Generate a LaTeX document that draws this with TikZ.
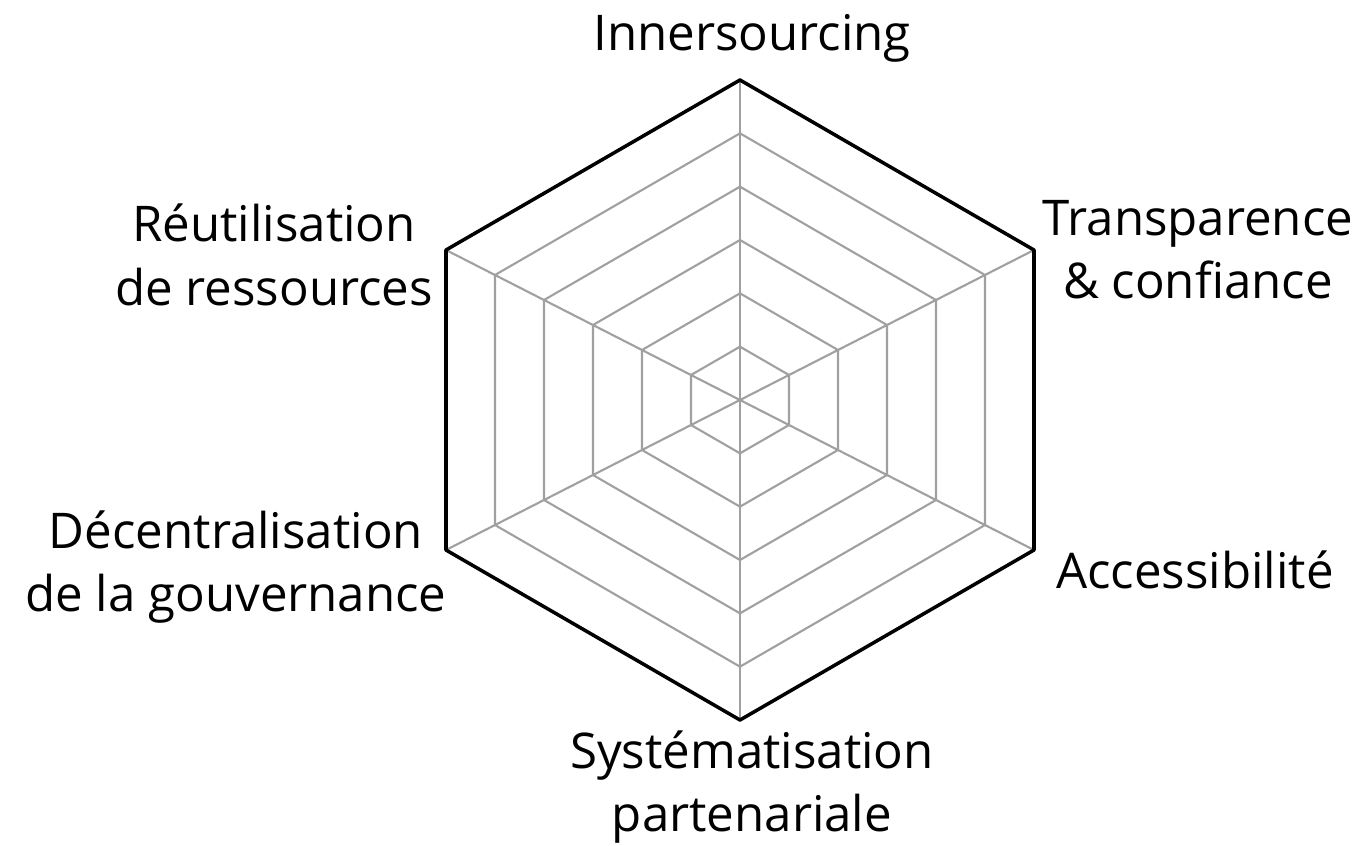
\documentclass[tikz,border=0pt]{standalone}
\usepackage{fontspec}
\setmainfont{Open Sans}
\usetikzlibrary{calc}
\definecolor{gridgray}{RGB}{160, 160, 160}

\begin{document}
\begin{tikzpicture}[
  axisline/.style={draw=gridgray, line width=0.6pt},
  ringline/.style={draw=gridgray, line width=0.6pt, line join=round},
  rimline/.style={draw=black, line width=1pt, line join=round},
  axislabel/.style={align=center, inner sep=0pt, font=\fontsize{14}{18}\selectfont}
]
  \useasboundingbox (-7.40,-4.45) rectangle (6.25,4.00);

  % Hexagon corners
  \coordinate (c) at (0,0);
  \coordinate (top) at (0,3.2);
  \coordinate (ur) at (2.94,1.5);
  \coordinate (lr) at (2.94,-1.5);
  \coordinate (bot) at (0,-3.2);
  \coordinate (ll) at (-2.94,-1.5);
  \coordinate (ul) at (-2.94,1.5);

  % Inner rings
  \foreach \k in {1,...,5} {
    \draw[ringline] ($(c)!\k/6!(top)$) -- ($(c)!\k/6!(ur)$) -- ($(c)!\k/6!(lr)$)
      -- ($(c)!\k/6!(bot)$) -- ($(c)!\k/6!(ll)$) -- ($(c)!\k/6!(ul)$) -- cycle;
  }

  % Axes
  \foreach \v in {top, ur, lr, bot, ll, ul} {
    \draw[axisline] (c) -- (\v);
  }

  % Outer rim
  \draw[rimline] (top) -- (ur) -- (lr) -- (bot) -- (ll) -- (ul) -- cycle;

  % Axis labels
  \node[axislabel] (innersourcing) at (0.12, 3.62) {Innersourcing};
  \node[axislabel] (transparence) at (4.58, 1.50) {Transparence\\\& confiance};
  \node[axislabel] (accessibilite) at (4.55, -1.70) {Accessibilité};
  \node[axislabel] (systematisation) at (0.12, -3.87) {Systématisation\\partenariale};
  \node[axislabel] (decentralisation) at (-5.04, -1.67) {Décentralisation\\de la gouvernance};
  \node[axislabel] (reutilisation) at (-4.66, 1.45) {Réutilisation\\de ressources};
\end{tikzpicture}
\end{document}
